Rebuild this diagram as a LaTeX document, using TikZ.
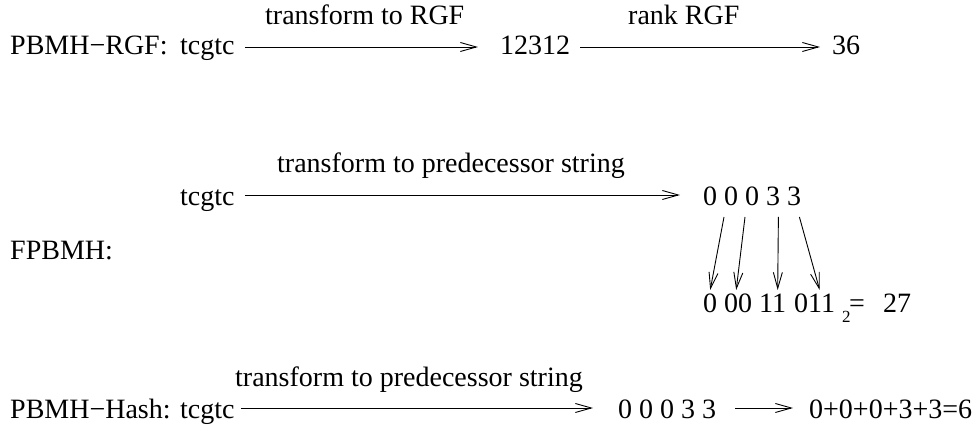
\documentclass[tikz,border=0pt]{standalone}
\usepackage{fontspec}
\setmainfont{Liberation Serif}
\usetikzlibrary{arrows.meta}
\tikzset{
  txt/.style={inner sep=0pt, anchor=base west, font=\fontsize{28}{34}\selectfont},
  subtxt/.style={inner sep=0pt, anchor=base west, font=\fontsize{17}{20}\selectfont},
  arr/.style={line width=0.9pt, -{Straight Barb[length=16pt,width=9pt,line width=0.9pt]}}
}
\begin{document}
\begin{tikzpicture}[x=1pt,y=1pt]
\useasboundingbox (0,0) rectangle (978,428);
% Row 1: PBMH-RGF
\node[txt] (lab1) at (10,373) {PBMH−RGF:};
\node[txt] (s1) at (180,373) {tcgtc};
\node[txt] (r1) at (500,373) {12312};
\node[txt] (k1) at (832,373) {36};
\draw[arr] ([xshift=10pt,yshift=8pt]s1.base east) -- ([xshift=-22pt,yshift=8pt]r1.base west);
\draw[arr] ([xshift=10pt,yshift=8pt]r1.base east) -- ([xshift=-12pt,yshift=8pt]k1.base west);
\node[txt] (l1) at (265,403) {transform to RGF};
\node[txt] (l2) at (628,403) {rank RGF};
% Row 2: FPBMH
\node[txt] (lab2) at (10,168) {FPBMH:};
\node[txt] (s2) at (180,222) {tcgtc};
\node[txt] (d1) at (703,222) {0};
\node[txt] (d2) at (724,222) {0};
\node[txt] (d3) at (745,222) {0};
\node[txt] (d4) at (766,222) {3};
\node[txt] (d5) at (787,222) {3};
\draw[arr] ([xshift=10pt,yshift=11pt]s2.base east) -- ([xshift=-23pt,yshift=11pt]d1.base west);
\node[txt] (l3) at (277,255) {transform to predecessor string};
\node[txt] (b1) at (703,115) {0};
\node[txt] (b2) at (724,115) {00};
\node[txt] (b3) at (759,115) {11};
\node[txt] (b4) at (794,115) {011};
\node[subtxt] (sub) at (842,105) {2};
\node[txt] (eq) at (849,115) {=};
\node[txt] (v27) at (883,115) {27};
\draw[arr] ([yshift=-11pt]d2.base west) -- ([yshift=23pt]b1.base);
\draw[arr] ([yshift=-11pt]d3.base west) -- ([xshift=-2pt,yshift=23pt]b2.base);
\draw[arr] ([xshift=-2pt,yshift=-11pt]d4.base east) -- ([xshift=5pt,yshift=23pt]b3.base);
\draw[arr] ([xshift=-2pt,yshift=-11pt]d5.base east) -- ([xshift=5pt,yshift=23pt]b4.base);
% Row 3: PBMH-Hash
\node[txt] (lab3) at (10,9) {PBMH−Hash:};
\node[txt] (s3) at (180,9) {tcgtc};
\node[txt] (p3) at (618,9) {0 0 0 3 3};
\node[txt] (sum) at (809,9) {0+0+0+3+3=6};
\draw[arr] ([xshift=6pt,yshift=11pt]s3.base east) -- ([xshift=-25pt,yshift=11pt]p3.base west);
\draw[arr] ([xshift=19pt,yshift=11pt]p3.base east) -- ([xshift=-16pt,yshift=11pt]sum.base west);
\node[txt] (l4) at (235,41) {transform to predecessor string};
\end{tikzpicture}
\end{document}
